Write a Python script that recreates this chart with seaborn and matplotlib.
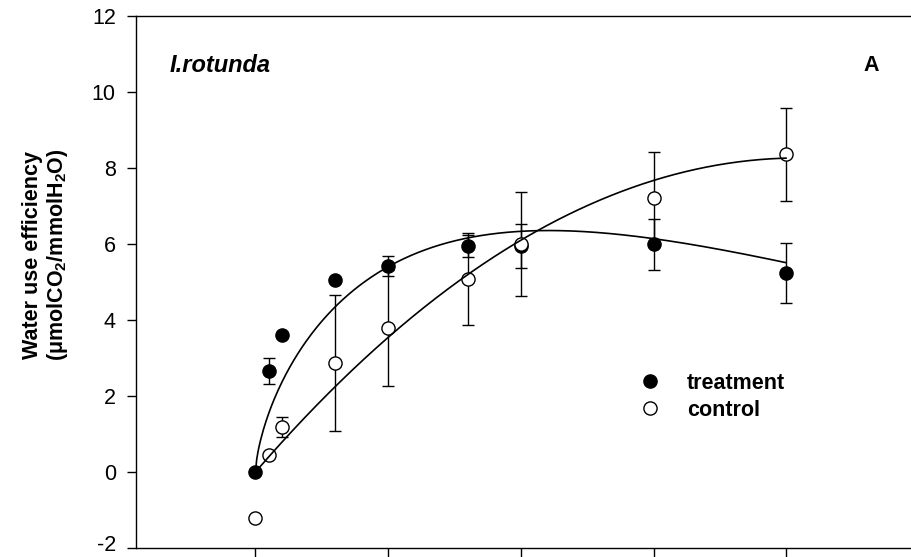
import numpy as np
import pandas as pd
import matplotlib
matplotlib.use("Agg")
import matplotlib.pyplot as plt
import matplotlib.transforms as mtransforms
from matplotlib.lines import Line2D
import seaborn as sns

# Sampling days
days = [0, 1, 2, 6, 10, 16, 20, 30, 40]

# Water use efficiency (mean and standard error)
treatment_wue = [0.0, 2.66, 3.60, 5.05, 5.42, 5.95, 5.94, 5.99, 5.24]
treatment_se = [0.0, 0.34, 0.0, 0.0, 0.26, 0.30, 0.58, 0.68, 0.79]
control_wue = [-1.21, 0.45, 1.18, 2.87, 3.79, 5.08, 6.00, 7.21, 8.36]
control_se = [0.0, 0.0, 0.27, 1.79, 1.53, 1.21, 1.37, 1.21, 1.23]

# Fitted regression curves
treatment_fit = (1.59, 0.661, 0.0299)   # y = a * x**b * exp(-c*x)
control_fit = (0.4035, -0.004925)       # y = b1*x + b2*x**2

y_ticks = [-2, 0, 2, 4, 6, 8, 10, 12]
x_ticks = [0, 10, 20, 30, 40]

sns.set_style("ticks")
plt.rcParams["font.family"] = ["Liberation Sans", "DejaVu Sans"]
plt.rcParams["mathtext.fontset"] = "custom"
plt.rcParams["mathtext.rm"] = "Liberation Sans"
plt.rcParams["mathtext.bf"] = "Liberation Sans:bold"
plt.rcParams["mathtext.default"] = "bf"
for key in ["text.color", "axes.labelcolor", "xtick.color", "ytick.color",
            "axes.edgecolor"]:
    plt.rcParams[key] = "black"

fig = plt.figure(figsize=(9.12, 5.57), dpi=100)
ax = fig.add_axes([136 / 912, 9 / 557, 783 / 912, 532 / 557])

df = pd.DataFrame({
    "day": days * 2,
    "wue": treatment_wue + control_wue,
    "se": treatment_se + control_se,
    "group": ["treatment"] * len(days) + ["control"] * len(days),
})

# error bars (behind the markers)
for grp in ["treatment", "control"]:
    sub = df[(df.group == grp) & (df.se > 0)]
    ax.errorbar(sub.day, sub.wue, yerr=sub.se, fmt="none", ecolor="black",
                elinewidth=1.0, capsize=4, capthick=1.0, zorder=2)

ms = 90
sns.scatterplot(data=df[df.group == "treatment"], x="day", y="wue",
                color="black", edgecolor="black", linewidth=1.0, s=ms,
                marker="o", ax=ax, zorder=3, legend=False)
sns.scatterplot(data=df[df.group == "control"], x="day", y="wue",
                color="white", edgecolor="black", linewidth=1.0, s=ms,
                marker="o", ax=ax, zorder=4, legend=False)

# regression curves
xs = np.linspace(0, 40, 400)
a, b, c = treatment_fit
b1, b2 = control_fit
fit_df = pd.DataFrame({
    "day": np.concatenate([xs, xs]),
    "wue": np.concatenate([a * xs ** b * np.exp(-c * xs), b1 * xs + b2 * xs ** 2]),
    "group": ["treatment"] * len(xs) + ["control"] * len(xs),
})
sns.lineplot(data=fit_df, x="day", y="wue", units="group", estimator=None,
             color="black", linewidth=1.2, ax=ax, zorder=5, legend=False)

ax.set_xlim(-9, 50)
ax.set_ylim(-2, 12)
ax.set_xticks(x_ticks)
ax.set_xticklabels([])
ax.set_yticks(y_ticks)
ax.set_yticklabels([str(t) for t in y_ticks])
ax.tick_params(axis="both", direction="out", length=6.5, width=1.0,
               color="black", labelcolor="black", labelsize=15.5, pad=8)
# keep the lowest tick label inside the canvas
lowest = ax.get_yticklabels()[0]
lowest.set_transform(lowest.get_transform() +
                     mtransforms.ScaledTranslation(0, 5 / 100, fig.dpi_scale_trans))
for side in ["left", "bottom", "top", "right"]:
    ax.spines[side].set_visible(True)
    ax.spines[side].set_linewidth(1.0)
    ax.spines[side].set_color("black")
ax.set_xlabel("")
ax.set_ylabel("Water use efficiency\n(μmolCO$_2$/mmolH$_2$O)",
              fontsize=15.5, fontweight="bold", linespacing=1.15, color="black")
ax.yaxis.set_label_coords(-0.084, 0.551)

ax.text(-6.5, 10.7, "I.rotunda", fontsize=17, fontweight="bold",
        fontstyle="italic", ha="left", va="center", color="black")
ax.text(46.4, 10.7, "A", fontsize=15.5, fontweight="bold",
        ha="center", va="center", color="black")

handles = [
    Line2D([], [], linestyle="none", marker="o", markersize=9.5,
           markerfacecolor="black", markeredgecolor="black", label="treatment"),
    Line2D([], [], linestyle="none", marker="o", markersize=9.5,
           markerfacecolor="white", markeredgecolor="black", label="control"),
]
leg = ax.legend(handles=handles, loc="center left", frameon=False,
                bbox_to_anchor=(27.3, 1.98), bbox_transform=ax.transData,
                handlelength=2.0, handletextpad=0.72, labelspacing=0.3,
                borderpad=0, prop={"size": 15.5, "weight": "bold"})
for txt in leg.get_texts():
    txt.set_color("black")

fig.savefig("out.png", dpi=100)
